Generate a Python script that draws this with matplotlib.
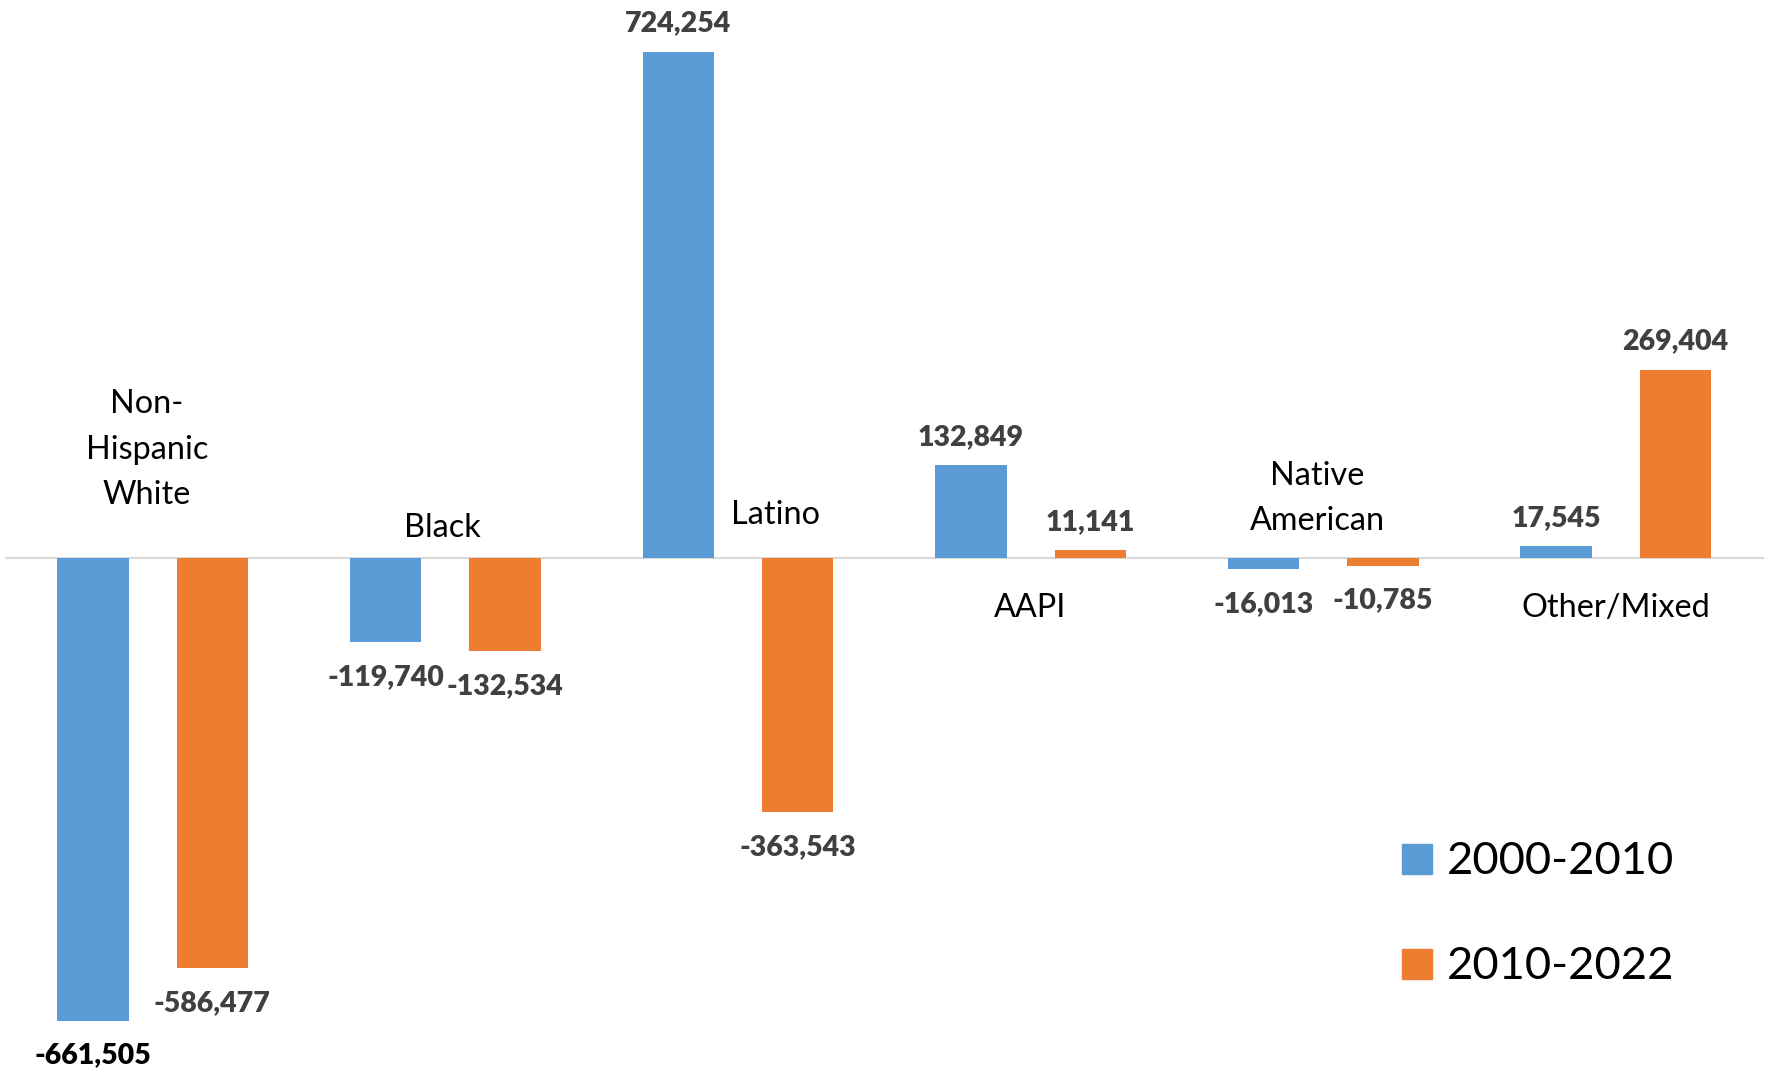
import matplotlib.pyplot as plt
import numpy as np

# data
categories = ["Non-\nHispanic\nWhite", "Black", "Latino", "AAPI", "Native\nAmerican", "Other/Mixed"]
series_names = ["2000-2010", "2010-2022"]
change_2000_2010 = [-661505, -119740, 724254, 132849, -16013, 17545]
change_2010_2022 = [-586477, -132534, -363543, 11141, -10785, 269404]

blue = "#5B9BD5"
orange = "#ED7D31"
label_grey = "#404040"

plt.rcParams['font.family'] = ['Lato', 'DejaVu Sans']

W, H = 1767, 1070
fig = plt.figure(figsize=(W / 100, H / 100), dpi=100)
ax = fig.add_axes([0, 0, 1, 1])

x = np.arange(len(categories))
width = 0.244
off = 0.204

b1 = ax.bar(x - off, change_2000_2010, width, color=blue, label=series_names[0])
b2 = ax.bar(x + off, change_2010_2022, width, color=orange, label=series_names[1])

# scale so groups sit where the reference puts them
ax.set_xlim(-0.522, 5.517)
ax.set_ylim(-732160, 797940)
ax.axis("off")
ax.axhline(0, xmin=6 / W, xmax=1763 / W, color="#D9D9D9", lw=1.5, zorder=0)

# value labels, outside end
for bars, vals in [(b1, change_2000_2010), (b2, change_2010_2022)]:
    for rect, v in zip(bars, vals):
        cx = rect.get_x() + rect.get_width() / 2
        dy = 20 if v >= 0 else -43
        col = "black" if v == -661505 else label_grey
        ax.annotate(f"{v:,}", (cx, v), xytext=(0, dy), textcoords="offset pixels",
                    ha="center", va="baseline", fontsize=20.5, fontweight="heavy", color=col)

# category labels (x shift in pixels, baseline offsets from the axis in pixels)
cat_pos = [(-6, [145, 99, 54]), (-3, [21]), (38, [34]), (0, [-59]), (-6, [73, 28]), (0, [-59])]
for i, (name, (dx, ys)) in enumerate(zip(categories, cat_pos)):
    for line, dy in zip(name.split("\n"), ys):
        ax.annotate(line, (x[i], 0), xytext=(dx, dy), textcoords="offset pixels",
                    ha="center", va="baseline", fontsize=23.3, color="black")

# legend drawn by hand
for j, (name, col) in enumerate(zip(series_names, [blue, orange])):
    top = 844 + j * 105
    ax.add_patch(plt.Rectangle((1402 / W, 1 - (top + 30) / H), 30 / W, 30 / H,
                               transform=ax.transAxes, color=col, clip_on=False))
    ax.text(1447 / W, 1 - (top + 30) / H, name, transform=ax.transAxes,
            ha="left", va="baseline", fontsize=32.7, color="black")

fig.savefig("out.png", dpi=100)
